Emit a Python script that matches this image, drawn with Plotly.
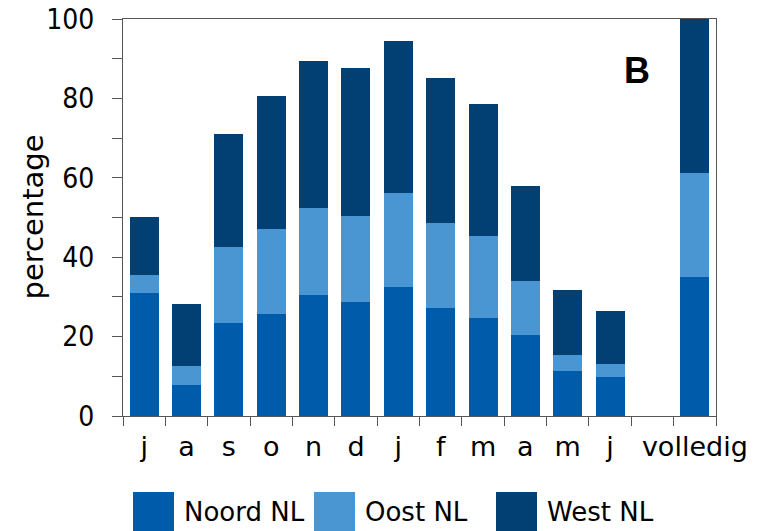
import plotly.graph_objects as go

# Month labels (July .. June), an empty spacer slot, then the full-year bar
labels = ["j", "a", "s", "o", "n", "d", "j", "f", "m", "a", "m", "j", "", "volledig"]

# Cumulative stack tops per category (percentage)
noord = [31.1, 7.8, 23.5, 25.8, 30.5, 28.8, 32.6, 27.1, 24.6, 20.4, 11.3, 9.7, None, 34.9]
oost_top = [35.5, 12.6, 42.6, 47.1, 52.3, 50.3, 56.1, 48.6, 45.3, 34.0, 15.3, 13.1, None, 61.1]
west_top = [50.2, 28.3, 71.0, 80.7, 89.3, 87.6, 94.5, 85.2, 78.6, 58.0, 31.7, 26.4, None, 100.0]

series_names = ["Noord NL", "Oost NL", "West NL"]
colors = ["#005baa", "#4a96d2", "#023f73"]


def diff(a, b):
    return [None if (x is None or y is None) else round(x - y, 2) for x, y in zip(a, b)]


oost = diff(oost_top, noord)
west = diff(west_top, oost_top)

positions = list(range(len(labels)))

fig = go.Figure()
for name, vals, col in zip(series_names, [noord, oost, west], colors):
    fig.add_trace(go.Bar(x=positions, y=vals, name=name, marker_color=col,
                         marker_line_width=0, showlegend=False))

font = "DejaVu Sans"
num_font = "DejaVu Sans Condensed, Liberation Sans"
axis_col = "#555555"

# plot area in pixels
L, R, T, B = 123, 716, 19, 416
W, H = R - L, B - T

fig.update_layout(
    barmode="stack",
    bargap=0.315,
    width=763, height=531,
    margin=dict(l=L, r=763 - R, t=T, b=531 - B, autoexpand=False),
    plot_bgcolor="white", paper_bgcolor="white",
    font=dict(family=font, size=27, color="black"),
    xaxis=dict(
        automargin=False,
        range=[-0.5, len(labels) - 0.5],
        tickvals=positions, ticktext=labels,
        ticks="", showgrid=False, zeroline=False,
        showline=True, linecolor=axis_col, linewidth=1, mirror=True,
        tickfont=dict(family=font, size=27),
        ticklabelstandoff=7,
        minor=dict(tickvals=[p - 0.5 for p in positions] + [len(labels) - 0.5],
                   ticks="outside", ticklen=9, tickcolor=axis_col, showgrid=False),
    ),
    yaxis=dict(
        automargin=False,
        range=[0, 100], dtick=20, ticks="outside", ticklen=10, tickcolor=axis_col,
        showgrid=False, zeroline=False,
        showline=True, linecolor=axis_col, linewidth=1, mirror=True,
        tickfont=dict(family=num_font, size=28),
        ticklabelstandoff=12,
        minor=dict(dtick=10, ticks="outside", ticklen=10, tickcolor=axis_col, showgrid=False),
    ),
)

# y-axis title
fig.add_annotation(xref="paper", yref="paper", x=(32 - L) / W, y=0.5,
                   text="percentage", textangle=-90, showarrow=False,
                   xanchor="center", yanchor="middle",
                   font=dict(family=font, size=29, color="black"))

# Panel letter
fig.add_annotation(x=(637 - L) / W, y=(B - 70) / H, xref="paper", yref="paper",
                   text="<b>B</b>", showarrow=False, xanchor="center", yanchor="middle",
                   font=dict(family="Liberation Sans", size=36, color="black"))

# Legend with large colour swatches below the axis
legend_x = [133, 314, 496]
for name, col, x0 in zip(series_names, colors, legend_x):
    fig.add_shape(type="rect", xref="paper", yref="paper",
                  x0=(x0 - L) / W, x1=(x0 + 41 - L) / W,
                  y0=(B - 533) / H, y1=(B - 492) / H,
                  fillcolor=col, line_width=0)
    fig.add_annotation(xref="paper", yref="paper",
                       x=(x0 + 49 - L) / W, y=(B - 512) / H,
                       xanchor="left", yanchor="middle", text=name, showarrow=False,
                       font=dict(family=font, size=26, color="black"))

fig.write_html("out.html")
